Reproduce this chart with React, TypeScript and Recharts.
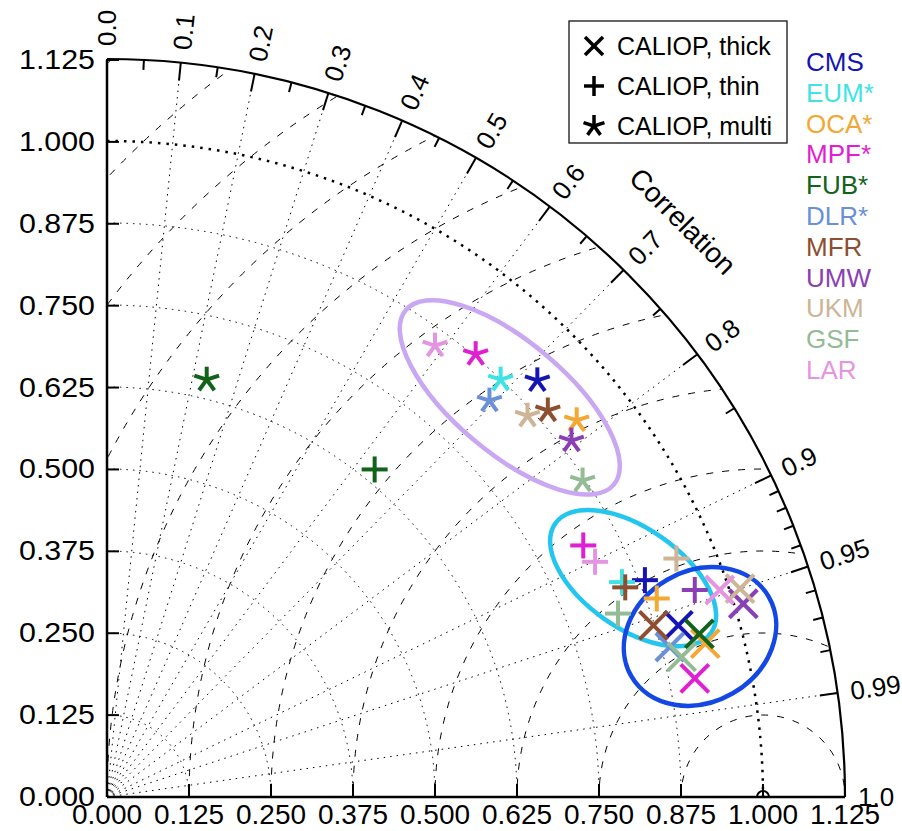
import React from 'react';
import { ScatterChart, Scatter, XAxis, YAxis, ReferenceLine } from 'recharts';

// Taylor diagram: normalised std dev on the axes, correlation on the arc
const RMAX = 1.125;
const REF_STD = 1.0;
const STD_TICKS = [0, 0.125, 0.25, 0.375, 0.5, 0.625, 0.75, 0.875, 1.0, 1.125];
const STD_RINGS = [0.125, 0.25, 0.375, 0.5, 0.625, 0.75, 0.875];
const RMS_RINGS = [0.125, 0.25, 0.375, 0.5, 0.625, 0.75, 0.875, 1.0, 1.125, 1.25, 1.375, 1.5];
const CORR_MAJOR = [0, 0.1, 0.2, 0.3, 0.4, 0.5, 0.6, 0.7, 0.8, 0.9, 0.95, 0.99, 1.0];
const CORR_LABELS = ['0.0', '0.1', '0.2', '0.3', '0.4', '0.5', '0.6', '0.7', '0.8', '0.9', '0.95', '0.99', '1.0'];
const CORR_MINOR = [0.05, 0.15, 0.25, 0.35, 0.45, 0.55, 0.65, 0.75, 0.85, 0.91, 0.92, 0.93, 0.94, 0.96, 0.97, 0.98];
const CORR_GRID = [0.1, 0.2, 0.3, 0.4, 0.5, 0.6, 0.7, 0.8, 0.9, 0.95, 0.99];

const MODELS = ['CMS', 'EUM*', 'OCA*', 'MPF*', 'FUB*', 'DLR*', 'MFR', 'UMW', 'UKM', 'GSF', 'LAR'];

// CALIOP thick (x marker)
const THICK_X = [0.871, null, 0.912, 0.896, 0.903, 0.858, 0.833, 0.970, 0.965, 0.876, 0.934];
const THICK_Y = [0.262, null, 0.234, 0.181, 0.249, 0.229, 0.262, 0.295, 0.318, 0.214, 0.316];
// CALIOP thin (+ marker)
const THIN_X = [0.820, 0.785, 0.838, 0.726, 0.408, null, 0.790, 0.896, 0.868, 0.779, 0.744];
const THIN_Y = [0.331, 0.328, 0.303, 0.384, 0.500, null, 0.320, 0.316, 0.364, 0.280, 0.359];
// CALIOP multi (* marker)
const MULTI_X = [0.656, 0.600, 0.716, 0.562, 0.152, 0.583, 0.672, 0.708, 0.641, 0.725, 0.500];
const MULTI_Y = [0.636, 0.637, 0.575, 0.676, 0.637, 0.605, 0.590, 0.544, 0.582, 0.483, 0.689];

// highlighted clusters (centre, semi axes in std units, tilt in degrees)
const ELLIPSE_CX = [0.614, 0.802, 0.904];
const ELLIPSE_CY = [0.610, 0.334, 0.245];
const ELLIPSE_A = [0.207, 0.145, 0.121];
const ELLIPSE_B = [0.085, 0.076, 0.100];
const ELLIPSE_TILT = [40, 35, -30];
const ELLIPSE_COLORS = ['#c9a7f3', '#22c6ee', '#1448e4'];

const COLORS: Record<string, string> = {
  'CMS': '#1515b5',
  'EUM*': '#3fe3e3',
  'OCA*': '#f2a832',
  'MPF*': '#e01fd2',
  'FUB*': '#12621a',
  'DLR*': '#6a90d8',
  'MFR': '#8e4e30',
  'UMW': '#8a40b4',
  'UKM': '#cdb596',
  'GSF': '#93bc95',
  'LAR': '#e495e2',
};

const FONT = '"Liberation Sans", Arial, Helvetica, sans-serif';

const toRows = (xs: (number | null)[], ys: (number | null)[]) =>
  MODELS.map((m, i) => ({ x: xs[i], y: ys[i], model: m })).filter(d => d.x != null && d.y != null);

const thickData = toRows(THICK_X, THICK_Y);
const thinData = toRows(THIN_X, THIN_Y);
const multiData = toRows(MULTI_X, MULTI_Y);

const Cross = ({ cx, cy, color, s = 14, w = 4 }: any) => (
  <g stroke={color} strokeWidth={w} strokeLinecap="butt">
    <line x1={cx - s} y1={cy - s} x2={cx + s} y2={cy + s} />
    <line x1={cx - s} y1={cy + s} x2={cx + s} y2={cy - s} />
  </g>
);

const Plus = ({ cx, cy, color, s = 13, w = 4 }: any) => (
  <g stroke={color} strokeWidth={w}>
    <line x1={cx - s} y1={cy} x2={cx + s} y2={cy} />
    <line x1={cx} y1={cy - s} x2={cx} y2={cy + s} />
  </g>
);

const Aster = ({ cx, cy, color, s = 13, w = 4 }: any) => (
  <g stroke={color} strokeWidth={w} strokeLinecap="butt">
    {[0, 1, 2, 3, 4].map(i => {
      const a = (-90 + i * 72) * Math.PI / 180;
      return <line key={i} x1={cx} y1={cy} x2={cx + s * Math.cos(a)} y2={cy + s * Math.sin(a)} />;
    })}
  </g>
);

const colorOf = (p: any) => COLORS[(p.payload && p.payload.model) || p.model];

// polar frame drawn from the pixel positions of origin and (RMAX, 0)
const PolarFrame = (props: any) => {
  const { x1, y1, x2 } = props;
  const k = (x2 - x1) / RMAX;
  const ox = x1;
  const oy = y1;
  const R = RMAX * k;
  const pt = (r: number, th: number) => [ox + r * Math.cos(th), oy - r * Math.sin(th)];
  const arc = (r: number) => `M ${ox} ${oy - r} A ${r} ${r} 0 0 1 ${ox + r} ${oy}`;
  const dot = '1.5 5';
  return (
    <g>
      <defs>
        <clipPath id="taylorClip">
          <path d={`M ${ox} ${oy} L ${ox} ${oy - R} A ${R} ${R} 0 0 1 ${ox + R} ${oy} Z`} />
        </clipPath>
      </defs>
      {STD_RINGS.map(r => (
        <path key={'s' + r} d={arc(r * k)} fill="none" stroke="#000" strokeWidth={1} strokeDasharray={dot} />
      ))}
      <path d={arc(REF_STD * k)} fill="none" stroke="#000" strokeWidth={2.5} strokeDasharray="2.5 6" />
      <g clipPath="url(#taylorClip)">
        {RMS_RINGS.map(d => (
          <circle key={'d' + d} cx={ox + REF_STD * k} cy={oy} r={d * k} fill="none" stroke="#000"
            strokeWidth={1} strokeDasharray="7 9" />
        ))}
      </g>
      {CORR_GRID.map(c => {
        const th = Math.acos(c);
        const [ex, ey] = pt(R, th);
        return <line key={'g' + c} x1={ox} y1={oy} x2={ex} y2={ey} stroke="#000" strokeWidth={1} strokeDasharray={dot} />;
      })}
      <path d={arc(R)} fill="none" stroke="#000" strokeWidth={2.2} />
      {CORR_MAJOR.map(c => {
        const th = Math.acos(c);
        const [ax, ay] = pt(R, th);
        const [bx, by] = pt(R - 18, th);
        return <line key={'M' + c} x1={ax} y1={ay} x2={bx} y2={by} stroke="#000" strokeWidth={2} />;
      })}
      {CORR_MINOR.map(c => {
        const th = Math.acos(c);
        const [ax, ay] = pt(R, th);
        const [bx, by] = pt(R - 10, th);
        return <line key={'m' + c} x1={ax} y1={ay} x2={bx} y2={by} stroke="#000" strokeWidth={2} />;
      })}
      {CORR_MAJOR.map((c, i) => {
        const th = Math.acos(c);
        const [tx, ty] = pt(R + 13, th);
        const deg = th * 180 / Math.PI;
        return (
          <text key={'L' + c} x={tx} y={ty} fontSize={26} fontFamily={FONT} textAnchor="start"
            dominantBaseline="central" transform={`rotate(${-deg} ${tx} ${ty})`}>
            {CORR_LABELS[i]}
          </text>
        );
      })}
      {(() => {
        const [cx, cy] = pt(R + 76, Math.PI / 4);
        return (
          <text x={cx} y={cy} fontSize={28} fontFamily={FONT} textAnchor="middle" dominantBaseline="central"
            transform={`rotate(45 ${cx} ${cy})`}>Correlation</text>
        );
      })()}
    </g>
  );
};

const EllipseShape = (props: any) => {
  const { x1, y1, x2, idx } = props;
  const k = (x2 - x1) / ELLIPSE_A[idx];
  return (
    <ellipse cx={x1} cy={y1} rx={ELLIPSE_A[idx] * k} ry={ELLIPSE_B[idx] * k} fill="none"
      stroke={ELLIPSE_COLORS[idx]} strokeWidth={4.5} transform={`rotate(${ELLIPSE_TILT[idx]} ${x1} ${y1})`} />
  );
};

const LeftTick = (props: any) => {
  const { x, y, payload } = props;
  const i = STD_TICKS.indexOf(payload.value);
  return (
    <g>
      <line x1={x} y1={y} x2={x + 12} y2={y} stroke="#000" strokeWidth={2} />
      <text x={x - 12} y={y} fontSize={27} fontFamily={FONT} textAnchor="end" dominantBaseline="central"
        textLength={76} lengthAdjust="spacingAndGlyphs">
        {STD_TICKS[i].toFixed(3)}
      </text>
    </g>
  );
};

const BottomTick = (props: any) => {
  const { x, y, payload } = props;
  const i = STD_TICKS.indexOf(payload.value);
  return (
    <g>
      <line x1={x} y1={y} x2={x} y2={y - 13} stroke="#000" strokeWidth={2} />
      <text x={x} y={y + 27} fontSize={28} fontFamily={FONT} textAnchor="middle"
        textLength={70} lengthAdjust="spacingAndGlyphs">
        {STD_TICKS[i].toFixed(3)}
      </text>
    </g>
  );
};

const LegendOverlay = () => (
  <svg width={902} height={831} style={{ position: 'absolute', left: 0, top: 0, pointerEvents: 'none' }}>
    <rect x={569} y={21} width={218} height={122} fill="#fff" stroke="#000" strokeWidth={1.2} />
    <Cross cx={594} cy={46} color="#000" s={9} w={3.5} />
    <Plus cx={594} cy={86} color="#000" s={10} w={3.5} />
    <Aster cx={594} cy={126} color="#000" s={11} w={3.5} />
    {['CALIOP, thick', 'CALIOP, thin', 'CALIOP, multi'].map((t, i) => (
      <text key={t} x={617} y={46 + i * 40} fontSize={25} fontFamily={FONT} dominantBaseline="central">{t}</text>
    ))}
    {MODELS.map((m, i) => (
      <text key={m} x={806} y={62 + i * 30.8} fontSize={26} fontFamily={FONT} fill={COLORS[m]}
        dominantBaseline="central">{m}</text>
    ))}
  </svg>
);

export default function App() {
  return (
    <div style={{ position: 'absolute', left: 0, top: 0, width: 902, height: 831, background: '#fff' }}>
      <ScatterChart width={902} height={831} margin={{ top: 60, right: 57, left: 0, bottom: 0 }}>
        <XAxis type="number" dataKey="x" domain={[0, RMAX]} ticks={STD_TICKS} interval={0} height={34}
          tickSize={0} tickMargin={0} tickLine={false} axisLine={{ stroke: '#000', strokeWidth: 2.5 }}
          tick={<BottomTick />} allowDataOverflow />
        <YAxis type="number" dataKey="y" domain={[0, RMAX]} ticks={STD_TICKS} interval={0} width={107}
          tickSize={0} tickMargin={0} tickLine={false} axisLine={{ stroke: '#000', strokeWidth: 2.5 }}
          tick={<LeftTick />} allowDataOverflow />
        <ReferenceLine segment={[{ x: 0, y: 0 }, { x: RMAX, y: 0 }]} ifOverflow="visible"
          shape={(p: any) => <PolarFrame {...p} />} />
        <Scatter data={thickData} isAnimationActive={false}
          shape={(p: any) => <Cross cx={p.cx} cy={p.cy} color={colorOf(p)} />} />
        <Scatter data={thinData} isAnimationActive={false}
          shape={(p: any) => <Plus cx={p.cx} cy={p.cy} color={colorOf(p)} />} />
        <Scatter data={multiData} isAnimationActive={false}
          shape={(p: any) => <Aster cx={p.cx} cy={p.cy} color={colorOf(p)} />} />
        <Scatter data={[{ x: REF_STD, y: 0 }]} isAnimationActive={false}
          shape={(p: any) => <circle cx={p.cx} cy={p.cy} r={6} fill="none" stroke="#000" strokeWidth={2} />} />
        {ELLIPSE_CX.map((cx, i) => (
          <ReferenceLine key={'e' + i} segment={[{ x: cx, y: ELLIPSE_CY[i] }, { x: cx + ELLIPSE_A[i], y: ELLIPSE_CY[i] }]}
            ifOverflow="visible" shape={(p: any) => <EllipseShape {...p} idx={i} />} />
        ))}
      </ScatterChart>
      <LegendOverlay />
    </div>
  );
}
